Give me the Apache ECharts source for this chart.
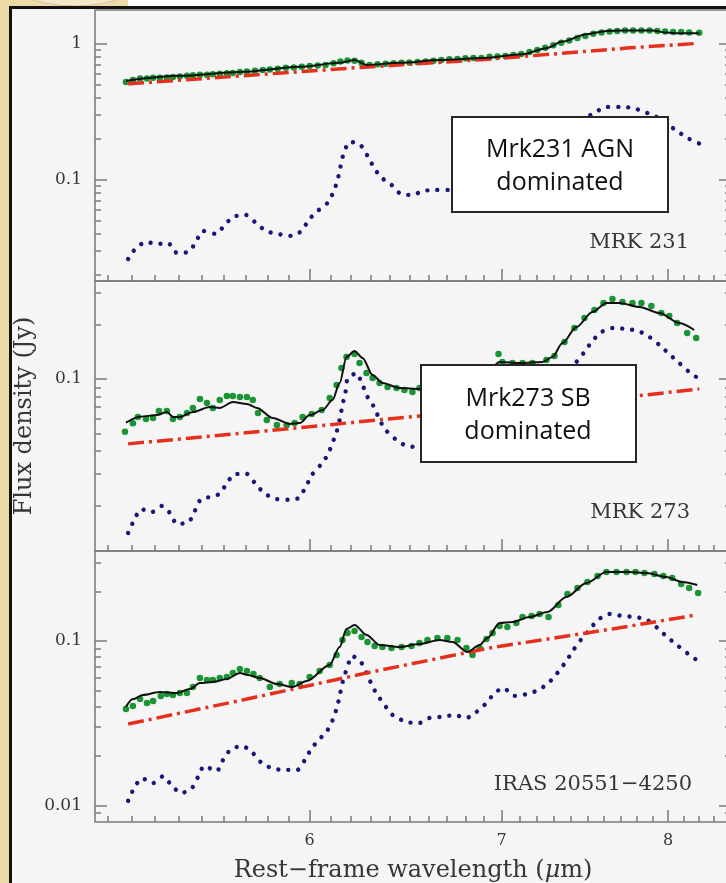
<!DOCTYPE html>
<html>
<head>
<meta charset="utf-8">
<script src="https://cdn.jsdelivr.net/npm/echarts@6/dist/echarts.min.js"></script>
<style>
  html, body { margin: 0; padding: 0; background: #f5f5f5; }
  #chart { width: 726px; height: 883px; }
</style>
</head>
<body>
<div id="chart"></div>
<script>
// ---- Axis ticks (wavelength in micron, flux density in Jy) ----
const xMajorTicks = [6, 7, 8];
const xMinorTicks = [5.1, 5.2, 5.3, 5.4, 5.5, 5.6, 5.7, 5.8, 5.9, 6.1, 6.2, 6.3, 6.4, 6.5, 6.6, 6.7, 6.8, 6.9,
                     7.1, 7.2, 7.3, 7.4, 7.5, 7.6, 7.7, 7.8, 7.9, 8.1, 8.2, 8.3, 8.4];
const mrk231MajorTicks = [0.1, 1];
const mrk231MinorTicks = [0.02, 0.03, 0.04, 0.05, 0.06, 0.07, 0.08, 0.09, 0.2, 0.3, 0.4, 0.5, 0.6, 0.7, 0.8, 0.9];
const mrk273MajorTicks = [0.1];
const mrk273MinorTicks = [0.02, 0.03, 0.04, 0.05, 0.06, 0.07, 0.08, 0.09, 0.2, 0.3];
const irasMajorTicks = [0.01, 0.1];
const irasMinorTicks = [0.009, 0.02, 0.03, 0.04, 0.05, 0.06, 0.07, 0.08, 0.09, 0.2, 0.3];

// ---- MRK 231 ----
const mrk231ObsWave = [5.177,5.206,5.236,5.265,5.291,5.320,5.350,5.376,5.406,5.437,
  5.463,5.494,5.525,5.551,5.582,5.614,5.641,5.673,5.705,5.742,
  5.778,5.811,5.848,5.886,5.924,5.962,6.000,6.039,6.077,6.116,
  6.150,6.185,6.220,6.255,6.295,6.336,6.377,6.418,6.459,6.500,
  6.542,6.585,6.627,6.669,6.712,6.756,6.799,6.843,6.887,6.932,
  6.976,7.021,7.066,7.111,7.158,7.203,7.249,7.296,7.343,7.390,
  7.439,7.486,7.534,7.584,7.633,7.680,7.729,7.779,7.831,7.882,
  7.932,7.981,8.033,8.085,8.137,8.203];
const mrk231ObsFlux = [0.521,0.539,0.553,0.553,0.558,0.558,0.562,0.567,0.572,0.577,
  0.582,0.587,0.587,0.592,0.597,0.602,0.607,0.617,0.622,0.628,
  0.638,0.644,0.650,0.661,0.666,0.672,0.683,0.689,0.695,0.713,
  0.737,0.750,0.744,0.719,0.695,0.701,0.707,0.713,0.719,0.725,
  0.731,0.737,0.744,0.756,0.763,0.769,0.776,0.782,0.782,0.796,
  0.802,0.809,0.823,0.837,0.866,0.896,0.927,0.967,1.009,1.052,
  1.097,1.135,1.175,1.205,1.225,1.236,1.246,1.246,1.246,1.246,
  1.236,1.225,1.215,1.215,1.205,1.195];
const mrk231FitWave = [5.177,5.406,5.673,5.952,6.146,6.220,6.280,6.449,6.659,6.904,
  7.118,7.256,7.350,7.493,7.614,7.713,7.900,7.989,8.072,8.203];
const mrk231FitFlux = [0.530,0.577,0.617,0.672,0.719,0.756,0.695,0.719,0.756,0.782,
  0.833,0.922,1.031,1.169,1.236,1.242,1.242,1.200,1.188,1.188];
const mrk231PahWave = [5.186,5.219,5.261,5.308,5.355,5.393,5.445,5.476,5.507,5.565,
  5.601,5.641,5.700,5.746,5.792,5.848,5.909,5.962,5.995,6.039,
  6.087,6.116,6.136,6.150,6.165,6.195,6.245,6.285,6.316,6.351,
  6.407,6.454,6.516,6.574,6.643,6.707,6.877,6.988,7.158,7.303,
  7.421,7.541,7.614,7.695,7.775,7.850,7.926,7.995,8.066,8.137,8.209];
const mrk231PahFlux = [0.0260,0.0313,0.0347,0.0335,0.0341,0.0288,0.0293,0.0347,0.0418,0.0397,
  0.0455,0.0530,0.0548,0.0479,0.0418,0.0397,0.0384,0.0418,0.0504,0.0587,
  0.0672,0.0809,0.0992,0.1235,0.1540,0.1887,0.1824,0.1489,0.1235,0.1043,
  0.0911,0.0782,0.0769,0.0823,0.0837,0.0837,0.0866,0.0896,0.1079,0.1648,
  0.2516,0.3083,0.3413,0.3413,0.3355,0.3135,0.2881,0.2559,0.2235,0.1985,0.1824];
const mrk231ContWave = [5.186, 6.220, 6.932, 7.757, 8.190];
const mrk231ContFlux = [0.504, 0.661, 0.766, 0.927, 1.000];

// ---- MRK 273 ----
const mrk273ObsWave = [5.173,5.206,5.227,5.261,5.291,5.316,5.350,5.376,5.406,5.437,
  5.463,5.494,5.525,5.551,5.582,5.614,5.641,5.673,5.705,5.732,
  5.756,5.797,5.844,5.890,5.928,5.966,6.010,6.058,6.097,6.131,
  6.155,6.180,6.220,6.245,6.280,6.311,6.346,6.387,6.433,6.474,
  6.516,6.553,
  6.982,7.004,7.061,7.118,7.175,7.256,7.303,7.362,
  7.421,7.481,7.541,7.596,7.651,7.713,7.775,7.831,7.894,7.957,
  8.008,8.059,8.124,8.183];
const mrk273ObsFlux = [0.0511,0.0569,0.0617,0.0601,0.0609,0.0666,0.0666,0.0601,0.0617,0.0649,
  0.0692,0.0775,0.0737,0.0692,0.0766,0.0806,0.0806,0.0796,0.0796,0.0766,
  0.0649,0.0594,0.0557,0.0557,0.0571,0.0617,0.0641,0.0674,0.0785,0.0927,
  0.1150,0.1323,0.1374,0.1226,0.1079,0.1013,0.0950,0.0903,0.0892,0.0870,
  0.0848,0.0892,
  0.1374,0.1242,0.1226,0.1226,0.1226,0.1274,0.1340,0.1601,
  0.1913,0.2173,0.2405,0.2630,0.2767,0.2663,0.2630,0.2630,0.2531,0.2315,
  0.2228,0.2039,0.1795,0.1684];
const mrk273FitWave = [5.177,5.236,5.308,5.350,5.376,5.406,5.463,5.538,5.582,5.641,
  5.705,5.751,5.825,5.905,5.952,6.000,6.063,6.111,6.146,6.180,
  6.220,6.260,6.311,6.361,6.449,6.553,6.712,6.850,6.930,
  6.988,7.101,7.233,7.291,7.350,7.433,7.529,7.614,7.695,7.819,7.945,8.072,8.170];
const mrk273FitFlux = [0.0574,0.0619,0.0632,0.0657,0.0617,0.0617,0.0657,0.0700,0.0692,0.0746,
  0.0728,0.0692,0.0609,0.0564,0.0571,0.0632,0.0674,0.0766,0.0950,0.1323,
  0.1428,0.1306,0.1052,0.0950,0.0892,0.0881,0.0890,0.0920,0.1120,
  0.1242,0.1226,0.1242,0.1323,0.1581,0.1938,0.2345,0.2630,0.2630,0.2499,0.2315,0.2039,0.1865];
const mrk273PahWave = [5.186,5.211,5.240,5.286,5.329,5.363,5.393,5.445,5.472,5.498,
  5.542,5.582,5.614,5.650,5.705,5.742,5.788,5.844,5.899,5.947,
  5.981,6.010,6.053,6.087,6.111,6.131,6.146,6.160,6.175,6.185,
  6.229,6.260,6.285,6.321,6.346,6.382,6.433,6.485,6.537,
  6.659,6.822,6.988,7.158,7.303,
  7.433,7.481,7.529,7.584,7.651,7.738,7.812,7.882,7.945,8.008,8.072,8.137,8.203];
const mrk273PahFlux = [0.0141,0.0166,0.0191,0.0184,0.0199,0.0182,0.0158,0.0162,0.0187,0.0217,
  0.0223,0.0232,0.0266,0.0299,0.0299,0.0266,0.0232,0.0217,0.0215,0.0220,
  0.0253,0.0295,0.0335,0.0380,0.0443,0.0509,0.0594,0.0718,0.0848,0.1000,
  0.1079,0.0927,0.0796,0.0692,0.0594,0.0516,0.0460,0.0426,0.0421,
  0.0410,0.0421,0.0449,0.0594,0.0870,
  0.1242,0.1410,0.1622,0.1818,0.1913,0.1889,0.1841,0.1706,0.1541,0.1374,0.1226,0.1093,0.1000];
const mrk273ContWave = [5.186, 5.986, 6.553, 7.800, 8.203];
const mrk273ContFlux = [0.0438, 0.0543, 0.0625, 0.0806, 0.0881];

// ---- IRAS 20551-4250 ----
const irasObsWave = [5.177,5.206,5.236,5.265,5.291,5.324,5.350,5.376,5.406,5.437,
  5.463,5.494,5.525,5.551,5.582,5.614,5.641,5.673,5.705,5.735,
  5.764,5.811,5.857,5.914,5.952,6.000,6.048,6.097,6.131,6.160,
  6.185,6.220,6.255,6.285,6.321,6.361,6.407,6.459,6.511,6.553,
  6.595,6.648,6.701,6.756,6.805,6.838,6.877,6.915,6.949,6.988,
  7.032,7.083,7.118,7.170,7.216,7.268,7.326,7.379,7.439,7.499,
  7.560,7.614,7.676,7.738,7.794,7.850,7.913,7.970,8.027,8.085,
  8.137,8.196];
const irasObsFlux = [0.0387,0.0403,0.0444,0.0420,0.0432,0.0464,0.0477,0.0470,0.0483,0.0483,
  0.0526,0.0596,0.0580,0.0580,0.0596,0.0605,0.0639,0.0676,0.0658,0.0630,
  0.0596,0.0526,0.0548,0.0556,0.0548,0.0605,0.0658,0.0715,0.0822,0.1014,
  0.1118,0.1150,0.1057,0.0986,0.0932,0.0920,0.0907,0.0920,0.0932,0.0972,
  0.1014,0.1043,0.1043,0.1014,0.0907,0.0822,0.0907,0.1028,0.1118,0.1234,
  0.1216,0.1286,0.1398,0.1418,0.1458,0.1398,0.1654,0.1929,0.2098,0.2282,
  0.2481,0.2624,0.2624,0.2624,0.2624,0.2587,0.2551,0.2481,0.2412,0.2219,
  0.2098,0.1956];
const irasFitWave = [5.177,5.206,5.248,5.320,5.393,5.450,5.494,5.551,5.614,5.673,
  5.709,5.764,5.844,5.918,5.986,6.097,6.146,6.180,6.220,6.280,
  6.346,6.449,6.553,6.659,6.729,6.810,6.877,6.921,6.988,7.061,
  7.158,7.262,7.373,7.493,7.614,7.757,7.863,7.989,8.092,8.190];
const irasFitFlux = [0.0398,0.0444,0.0470,0.0490,0.0483,0.0511,0.0556,0.0564,0.0588,0.0639,
  0.0622,0.0596,0.0548,0.0526,0.0572,0.0715,0.0920,0.1183,0.1251,0.1088,
  0.0946,0.0920,0.0959,0.1014,0.0986,0.0858,0.0946,0.1043,0.1286,0.1304,
  0.1398,0.1500,0.1849,0.2250,0.2624,0.2624,0.2587,0.2446,0.2282,0.2188];
const irasPahWave = [5.186,5.211,5.244,5.291,5.333,5.372,5.411,5.459,5.485,5.512,
  5.569,5.596,5.633,5.686,5.732,5.778,5.834,5.890,5.942,5.976,
  6.010,6.048,6.087,6.116,6.136,6.150,6.165,6.210,6.255,6.285,
  6.311,6.346,6.413,6.485,6.553,6.606,6.669,6.740,6.805,6.860,
  6.915,6.960,7.010,7.072,7.147,7.210,7.268,7.320,7.373,7.415,
  7.463,7.511,7.560,7.633,7.713,7.794,7.869,7.932,7.995,8.066,
  8.131,8.196];
const irasPahFlux = [0.0107,0.0128,0.0147,0.0137,0.0151,0.0132,0.0119,0.0128,0.0149,0.0174,
  0.0162,0.0189,0.0221,0.0230,0.0209,0.0179,0.0167,0.0165,0.0165,0.0189,
  0.0224,0.0254,0.0288,0.0341,0.0409,0.0490,0.0588,0.0811,0.0735,0.0622,
  0.0526,0.0451,0.0355,0.0322,0.0318,0.0341,0.0346,0.0355,0.0341,0.0371,
  0.0420,0.0483,0.0518,0.0464,0.0477,0.0504,0.0556,0.0639,0.0756,0.0882,
  0.1028,0.1166,0.1341,0.1458,0.1418,0.1398,0.1341,0.1199,0.1057,0.0932,
  0.0834,0.0756];
const irasContWave = [5.186, 5.705, 6.280, 6.932, 7.651, 8.183];
const irasContFlux = [0.0313, 0.0444, 0.0639, 0.0907, 0.1183, 0.1438];

// ---- Chart construction ----
const AXIS_GRAY = '#7a7a7a';
const TEXT_GRAY = '#363636';
const SERIF = '"DejaVu Serif", "Liberation Serif", serif';
const X_MIN = 5.05, X_MAX = 8.415;

const zip = (w, f) => w.map((x, i) => [x, f[i]]);
const yLabelText = v => (v >= 1 ? v.toFixed(0) : String(parseFloat(v.toPrecision(1))));

const panels = [
  { name: 'MRK 231', top: 10, height: 271, yMin: 0.0179, yMax: 1.76,
    major: mrk231MajorTicks, minor: mrk231MinorTicks,
    obs: zip(mrk231ObsWave, mrk231ObsFlux), fit: zip(mrk231FitWave, mrk231FitFlux),
    pah: zip(mrk231PahWave, mrk231PahFlux), cont: zip(mrk231ContWave, mrk231ContFlux) },
  { name: 'MRK 273', top: 281, height: 270, yMin: 0.01121, yMax: 0.3478,
    major: mrk273MajorTicks, minor: mrk273MinorTicks,
    obs: zip(mrk273ObsWave, mrk273ObsFlux), fit: zip(mrk273FitWave, mrk273FitFlux),
    pah: zip(mrk273PahWave, mrk273PahFlux), cont: zip(mrk273ContWave, mrk273ContFlux) },
  { name: 'IRAS 20551\u22124250', top: 551, height: 271, yMin: 0.00796, yMax: 0.3518,
    major: irasMajorTicks, minor: irasMinorTicks,
    obs: zip(irasObsWave, irasObsFlux), fit: zip(irasFitWave, irasFitFlux),
    pah: zip(irasPahWave, irasPahFlux), cont: zip(irasContWave, irasContFlux) }
];

const grid = [], xAxis = [], yAxis = [], series = [];
const tickStyle = { color: AXIS_GRAY, width: 1.5 };

panels.forEach((p, i) => {
  // the right frame edge sits just past the canvas edge
  grid.push({ left: 95, right: -5, top: p.top, height: p.height, show: true,
              outerBoundsMode: 'none', containLabel: false,
              borderColor: AXIS_GRAY, borderWidth: 1.5, backgroundColor: 'transparent' });

  const xBase = { type: 'log', gridIndex: i, min: X_MIN, max: X_MAX, position: 'bottom',
                  axisLine: { show: false }, splitLine: { show: false } };
  xAxis.push(Object.assign({}, xBase, {
    axisTick: { show: true, inside: true, length: 12, customValues: xMajorTicks, lineStyle: tickStyle },
    axisLabel: { show: i === panels.length - 1, customValues: xMajorTicks, margin: 11,
                 fontFamily: SERIF, fontSize: 16, color: TEXT_GRAY,
                 formatter: v => String(Math.round(v)) }
  }));
  xAxis.push(Object.assign({}, xBase, {
    axisTick: { show: true, inside: true, length: 6, customValues: xMinorTicks, lineStyle: tickStyle },
    axisLabel: { show: false }
  }));

  const yBase = { type: 'log', gridIndex: i, min: p.yMin, max: p.yMax,
                  axisLine: { show: false }, splitLine: { show: false } };
  ['left', 'right'].forEach(side => {
    yAxis.push(Object.assign({}, yBase, {
      position: side,
      axisTick: { show: true, inside: true, length: 12, customValues: p.major, lineStyle: tickStyle },
      axisLabel: side === 'left'
        ? { show: true, customValues: p.major, margin: 13, fontFamily: SERIF, fontSize: 17,
            color: TEXT_GRAY, formatter: yLabelText }
        : { show: false }
    }));
    yAxis.push(Object.assign({}, yBase, {
      position: side,
      axisTick: { show: true, inside: true, length: 6, customValues: p.minor, lineStyle: tickStyle },
      axisLabel: { show: false }
    }));
  });

  const xi = 2 * i, yi = 4 * i;
  series.push({ type: 'scatter', name: 'observed', xAxisIndex: xi, yAxisIndex: yi, data: p.obs,
                symbol: 'circle', symbolSize: 6.5, itemStyle: { color: '#1a9435', opacity: 1 }, z: 2, silent: true });
  series.push({ type: 'line', name: 'PAH', xAxisIndex: xi, yAxisIndex: yi, data: p.pah,
                showSymbol: false, smooth: 0.2,
                lineStyle: { color: '#17177a', width: 4.4, type: [0.01, 10], cap: 'round' }, z: 3, silent: true });
  series.push({ type: 'line', name: 'continuum', xAxisIndex: xi, yAxisIndex: yi, data: p.cont,
                showSymbol: false,
                lineStyle: { color: '#e5301e', width: 3.5, type: [16, 5, 3, 5] }, z: 4, silent: true });
  series.push({ type: 'line', name: 'fit', xAxisIndex: xi, yAxisIndex: yi, data: p.fit,
                showSymbol: false, smooth: 0.3, smoothMonotone: 'x',
                lineStyle: { color: '#111111', width: 2 }, z: 5, silent: true });
});

// Frame, titles, panel names and the two annotation boxes
const graphic = [
  { type: 'rect', shape: { x: 0, y: 0, width: 9, height: 883 }, style: { fill: '#eedaa9' }, z: 1 },
  { type: 'rect', shape: { x: 0, y: 0, width: 128, height: 7 }, style: { fill: '#eedaa9' }, z: 1 },
  { type: 'rect', shape: { x: 128, y: 0, width: 598, height: 6 }, style: { fill: '#ffffff' }, z: 1 },
  { type: 'circle', shape: { cx: 75, cy: -144, r: 150 }, style: { fill: '#f4e7c9', stroke: '#d6c299', lineWidth: 1 }, z: 1 },
  { type: 'line', shape: { x1: 10.5, y1: 6, x2: 10.5, y2: 883 }, style: { stroke: '#111', lineWidth: 3 }, z: 2 },
  { type: 'line', shape: { x1: 9, y1: 7.5, x2: 726, y2: 7.5 }, style: { stroke: '#111', lineWidth: 3 }, z: 2 },

  { type: 'text', x: 413, y: 871, z: 10,
    style: { text: 'Rest\u2212frame wavelength ({i|\u03bc}m)', align: 'center', verticalAlign: 'middle',
             fontFamily: SERIF, fontSize: 24, fill: TEXT_GRAY,
             rich: { i: { fontFamily: SERIF, fontSize: 24, fontStyle: 'italic', fill: TEXT_GRAY } } } },
  { type: 'text', x: 25, y: 416, rotation: Math.PI / 2, z: 10,
    style: { text: 'Flux density (Jy)', align: 'center', verticalAlign: 'middle',
             fontFamily: SERIF, fontSize: 24, fill: TEXT_GRAY } },

  { type: 'text', x: 689, y: 243, z: 10,
    style: { text: panels[0].name, align: 'right', verticalAlign: 'middle', fontFamily: SERIF, fontSize: 21, fill: TEXT_GRAY } },
  { type: 'text', x: 690, y: 513, z: 10,
    style: { text: panels[1].name, align: 'right', verticalAlign: 'middle', fontFamily: SERIF, fontSize: 21, fill: TEXT_GRAY } },
  { type: 'text', x: 692, y: 785, z: 10,
    style: { text: panels[2].name, align: 'right', verticalAlign: 'middle', fontFamily: SERIF, fontSize: 21, fill: TEXT_GRAY } },

  { type: 'rect', shape: { x: 452, y: 117, width: 216, height: 95 }, z: 100,
    style: { fill: '#ffffff', stroke: '#262626', lineWidth: 2 } },
  { type: 'text', x: 560, y: 166, z: 101,
    style: { text: 'Mrk231 AGN\ndominated', align: 'center', verticalAlign: 'middle',
             fontFamily: '"Open Sans", sans-serif', fontSize: 25, lineHeight: 33, fill: '#111' } },
  { type: 'rect', shape: { x: 421, y: 365, width: 215, height: 97 }, z: 100,
    style: { fill: '#ffffff', stroke: '#262626', lineWidth: 2 } },
  { type: 'text', x: 528, y: 415, z: 101,
    style: { text: 'Mrk273 SB\ndominated', align: 'center', verticalAlign: 'middle',
             fontFamily: '"Open Sans", sans-serif', fontSize: 25, lineHeight: 33, fill: '#111' } }
];

const chart = echarts.init(document.getElementById('chart'), null, { renderer: 'canvas' });
chart.setOption({
  backgroundColor: '#f5f5f5',
  animation: false,
  grid, xAxis, yAxis, series, graphic
});
</script>
</body>
</html>
